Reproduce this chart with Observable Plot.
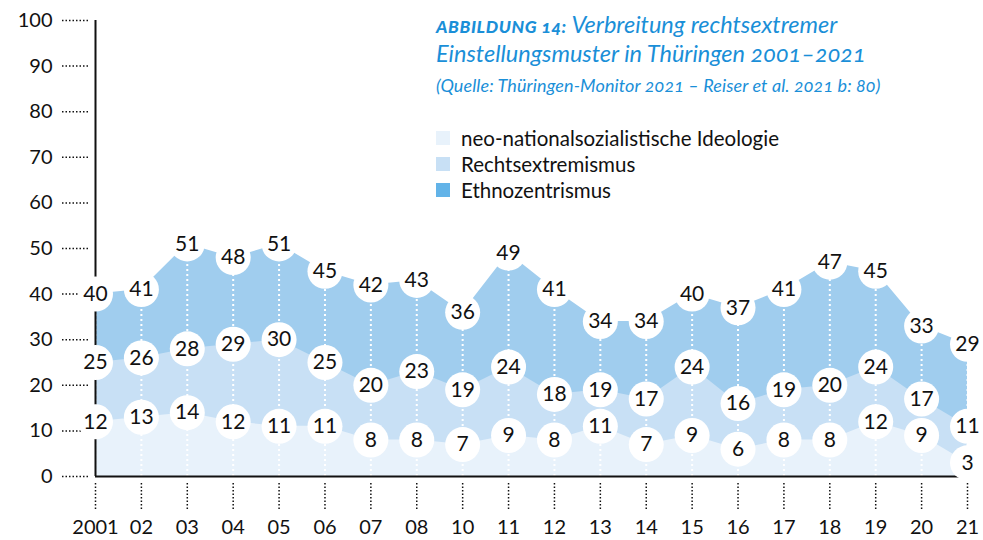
<!DOCTYPE html>
<html>
<head>
<meta charset="utf-8">
<script src="https://cdn.jsdelivr.net/npm/d3@7"></script>
<script src="https://cdn.jsdelivr.net/npm/@observablehq/plot@0.6"></script>
<style>
  html, body { margin: 0; padding: 0; background: #fff; }
  #wrap { position: relative; width: 983px; height: 540px; font-family: Lato, "Noto Sans", sans-serif; }
  #title { position: absolute; left: 436px; top: 11px; color: #1a8fd8; font-style: italic; font-size: 23.5px; line-height: 26px; white-space: nowrap; font-variant-numeric: oldstyle-nums; }
  #title b { text-transform: uppercase; font-size: 17.5px; letter-spacing: 0.6px; font-weight: 900; }
  #sub { position: absolute; left: 436px; top: 74px; color: #1a8fd8; font-style: italic; font-size: 18px; letter-spacing: 0.1px; white-space: nowrap; font-variant-numeric: oldstyle-nums; }
  #legend { position: absolute; left: 436px; top: 125px; font-size: 20.5px; color: #111; white-space: nowrap; }
  #legend div { height: 26px; line-height: 26px; display: flex; align-items: center; }
  #legend span.sw { display: inline-block; width: 14px; height: 14px; margin-right: 11px; }
  g[aria-label="y-axis tick"] path, g[aria-label="x-axis tick"] path { stroke-dasharray: 1.5 2; }
</style>
</head>
<body>
<div id="wrap">
  <div id="chart"></div>
  <div id="title"></div>
  <div id="sub"></div>
  <div id="legend"></div>
</div>
<script>
const years = ["2001","02","03","04","05","06","07","08","10","11","12","13","14","15","16","17","18","19","20","21"];
const ethno = [40,41,51,48,51,45,42,43,36,49,41,34,34,40,37,41,47,45,33,29];
const rechts = [25,26,28,29,30,25,20,23,19,24,18,19,17,24,16,19,20,24,17,11];
const neo = [12,13,14,12,11,11,8,8,7,9,8,11,7,9,6,8,8,12,9,3];
const seriesNames = ["neo-nationalsozialistische Ideologie","Rechtsextremismus","Ethnozentrismus"];
const areaColors = ["#e8f2fb","#c8e0f5","#a0cdee"];
const legendColors = ["#e8f2fb","#c8e0f5","#62b3e8"];
const yTicks = [0,10,20,30,40,50,60,70,80,90,100];
const titleBold = "Abbildung 14:";
const titleText = " Verbreitung rechtsextremer<br>Einstellungsmuster in Thüringen 2001–2021";
const subtitle = "(Quelle: Thüringen-Monitor 2021 – Reiser et al. 2021 b: 80)";

const idx = years.map((_, i) => i);
const rows = idx.map(i => ({i, year: years[i], ethno: ethno[i], rechts: rechts[i], neo: neo[i]}));
const labels = [];
for (const r of rows) {
  labels.push({i: r.i, v: r.ethno});
  labels.push({i: r.i, v: r.rechts});
  labels.push({i: r.i, v: r.neo});
}

const font = "Lato, 'Noto Sans', sans-serif";
const chart = Plot.plot({
  width: 983,
  height: 540,
  marginLeft: 95,
  marginRight: 16,
  marginTop: 20,
  marginBottom: 64,
  style: {fontFamily: font, fontSize: "20px", color: "#111", background: "#fff"},
  x: {domain: [0, years.length - 1], axis: null},
  y: {domain: [0, 100], axis: null},
  marks: [
    Plot.areaY(rows, {x: "i", y: "ethno", fill: areaColors[2]}),
    Plot.areaY(rows, {x: "i", y: "rechts", fill: areaColors[1]}),
    Plot.areaY(rows, {x: "i", y: "neo", fill: areaColors[0]}),
    Plot.ruleX(rows, {x: "i", y1: 0, y2: "ethno", stroke: "#fff", strokeWidth: 2, strokeDasharray: "2 3"}),
    Plot.ruleY([0], {stroke: "#111", strokeWidth: 2}),
    Plot.ruleX([0], {y1: 0, y2: 100, stroke: "#111", strokeWidth: 2}),
    Plot.axisY({ticks: yTicks, label: null, tickSize: 26, dx: -7, tickPadding: 10, fontSize: 20, stroke: "#111", strokeWidth: 1.5, tickFormat: d => d}),
    Plot.axisX({ticks: idx, label: null, tickSize: 28, dy: 7, tickPadding: 8, fontSize: 20, stroke: "#111", strokeWidth: 1.5, tickFormat: i => years[i]}),
    Plot.dot(labels, {x: "i", y: "v", r: 17.5, fill: "#fff"}),
    Plot.text(labels, {x: "i", y: "v", text: "v", fontSize: 21, fill: "#111"})
  ]
});
document.getElementById("chart").appendChild(chart);

document.getElementById("title").innerHTML = "<b>" + titleBold + "</b>" + titleText;
document.getElementById("sub").textContent = subtitle;
const leg = document.getElementById("legend");
seriesNames.forEach((n, k) => {
  const d = document.createElement("div");
  d.innerHTML = `<span class="sw" style="background:${legendColors[k]}"></span>${n}`;
  leg.appendChild(d);
});
</script>
</body>
</html>
